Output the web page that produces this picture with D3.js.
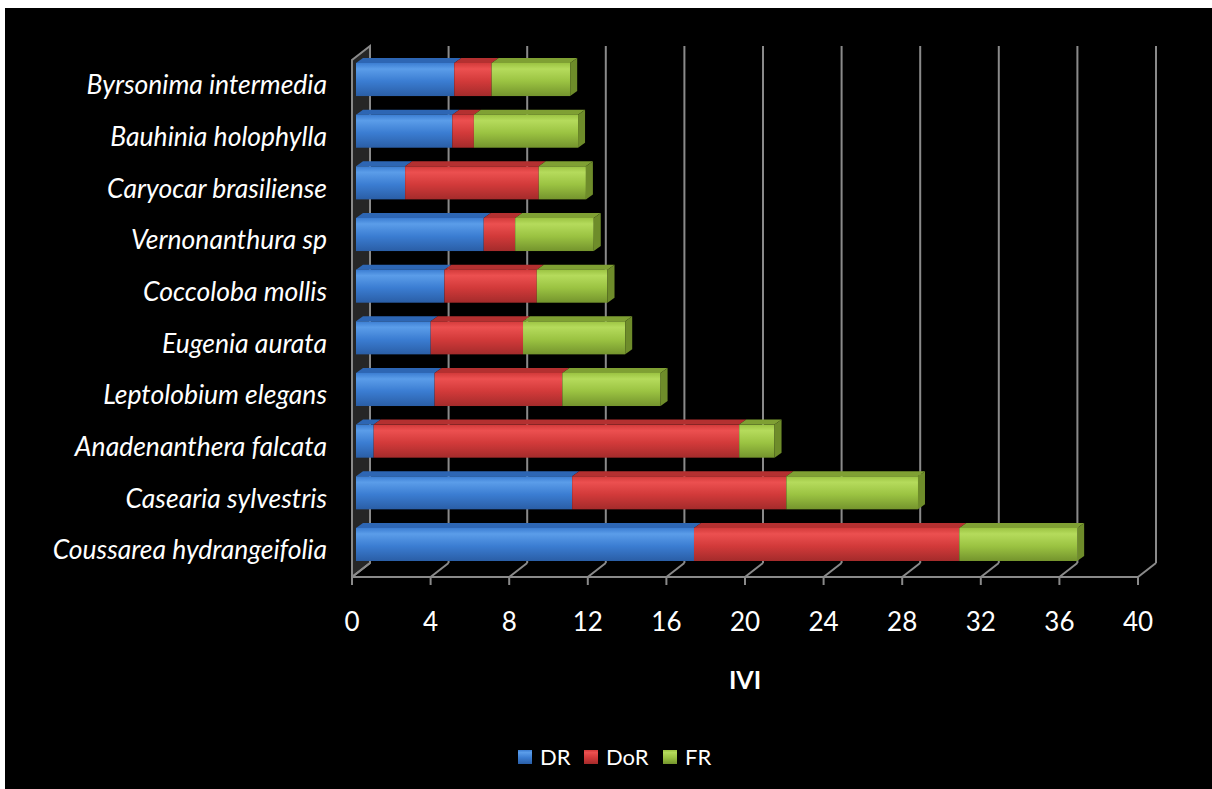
<!DOCTYPE html>
<html>
<head>
<meta charset="utf-8">
<script src="https://cdn.jsdelivr.net/npm/d3@7"></script>
<style>
  body { margin: 0; background: #fff; }
  svg { display: block; }
</style>
</head>
<body>
<script>
// species, bottom to top as in the chart
var species = ["Coussarea hydrangeifolia", "Casearia sylvestris", "Anadenanthera falcata",
  "Leptolobium elegans", "Eugenia aurata", "Coccoloba mollis", "Vernonanthura sp",
  "Caryocar brasiliense", "Bauhinia holophylla", "Byrsonima intermedia"];
var DR  = [17.2, 11.0, 0.9, 4.0, 3.8, 4.5, 6.5, 2.5, 4.9, 5.0];
var DoR = [13.5, 10.9, 18.6, 6.5, 4.7, 4.7, 1.6, 6.8, 1.1, 1.9];
var FR  = [6.0, 6.7, 1.8, 5.0, 5.2, 3.6, 4.0, 2.4, 5.3, 4.0];
var seriesNames = ["DR", "DoR", "FR"];
var xTicks = [0, 4, 8, 12, 16, 20, 24, 28, 32, 36, 40];

var width = 1212, height = 789;
var depth = {x: 18, y: -14};   // back wall offset
var barOff = {x: 4, y: 0};      // bars sit a bit behind the front plane
var cap = {x: 7, y: -5};        // visible top / end face of each bar
var font = "Lato, 'Open Sans', sans-serif";

var svg = d3.select("body").append("svg")
    .attr("width", width)
    .attr("height", height);

svg.append("rect")
    .attr("x", 5).attr("y", 8)
    .attr("width", width - 5).attr("height", height - 8)
    .attr("fill", "#000");

var x = d3.scaleLinear().domain([0, 40]).range([352, 1138]);
var y = d3.scaleBand()
    .domain(species.slice().reverse())
    .range([63, 561])
    .paddingInner(0.36)
    .paddingOuter(0);

var floorY = 577, wallTop = 60;

var colors = {
  DR:  {top: "#5b9de9", mid: "#3b7dd2", bot: "#2a5ea6", face: "#2d66b4", end: "#2a5ea6"},
  DoR: {top: "#ec5050", mid: "#d23a3a", bot: "#a42b2b", face: "#b43030", end: "#a42b2b"},
  FR:  {top: "#b5db5c", mid: "#9bc342", bot: "#74942d", face: "#7fa033", end: "#6e8c2a"}
};

var defs = svg.append("defs");
seriesNames.forEach(function(s) {
  var g = defs.append("linearGradient")
      .attr("id", "grad-" + s)
      .attr("x1", 0).attr("y1", 0).attr("x2", 0).attr("y2", 1);
  g.append("stop").attr("offset", "0%").attr("stop-color", colors[s].mid);
  g.append("stop").attr("offset", "18%").attr("stop-color", colors[s].top);
  g.append("stop").attr("offset", "55%").attr("stop-color", colors[s].mid);
  g.append("stop").attr("offset", "100%").attr("stop-color", colors[s].bot);
});

// left wall
svg.append("path")
    .attr("d", "M" + x(0) + "," + floorY + " L" + x(0) + "," + wallTop +
      " L" + (x(0) + depth.x) + "," + (wallTop + depth.y) +
      " L" + (x(0) + depth.x) + "," + (floorY + depth.y) + " Z")
    .attr("fill", "#262626")
    .attr("stroke", "#8a8a8a")
    .attr("stroke-width", 2);

// back wall gridlines
svg.append("g").selectAll("line")
    .data(xTicks.slice(1))
  .enter().append("line")
    .attr("x1", function(d) { return x(d) + depth.x; })
    .attr("x2", function(d) { return x(d) + depth.x; })
    .attr("y1", floorY + depth.y)
    .attr("y2", wallTop + depth.y)
    .attr("stroke", "#8a8a8a")
    .attr("stroke-width", 2);

// floor lines
var floor = svg.append("g").attr("stroke", "#8a8a8a").attr("stroke-width", 2);
floor.selectAll("line.depth")
    .data(xTicks)
  .enter().append("line")
    .attr("class", "depth")
    .attr("x1", function(d) { return x(d); })
    .attr("y1", floorY)
    .attr("x2", function(d) { return x(d) + depth.x; })
    .attr("y2", floorY + depth.y);
floor.append("line")
    .attr("x1", x(0)).attr("x2", x(40))
    .attr("y1", floorY).attr("y2", floorY);
floor.selectAll("line.tick")
    .data(xTicks)
  .enter().append("line")
    .attr("class", "tick")
    .attr("x1", function(d) { return x(d); })
    .attr("x2", function(d) { return x(d); })
    .attr("y1", floorY)
    .attr("y2", floorY + 8);

// stacked data
var rows = species.map(function(name, i) {
  return {name: name, DR: DR[i], DoR: DoR[i], FR: FR[i]};
});
var stack = d3.stack().keys(seriesNames)(rows);

var bx = function(v) { return x(v) + barOff.x; };

var bars = svg.append("g");
rows.forEach(function(row, i) {
  var y0 = y(row.name) + barOff.y, h = y.bandwidth();
  var g = bars.append("g");
  stack.forEach(function(layer) {
    var s = layer.key, d = layer[i];
    var xa = bx(d[0]), xb = bx(d[1]);
    // top face
    g.append("path")
        .attr("d", "M" + xa + "," + y0 + " L" + (xa + cap.x) + "," + (y0 + cap.y) +
          " L" + (xb + cap.x) + "," + (y0 + cap.y) + " L" + xb + "," + y0 + " Z")
        .attr("fill", colors[s].face);
    // front face
    g.append("rect")
        .attr("x", xa).attr("y", y0)
        .attr("width", xb - xa).attr("height", h)
        .attr("fill", "url(#grad-" + s + ")");
  });
  // end face of the last segment
  var xe = bx(stack[2][i][1]);
  g.append("path")
      .attr("d", "M" + xe + "," + y0 + " L" + (xe + cap.x) + "," + (y0 + cap.y) +
        " L" + (xe + cap.x) + "," + (y0 + h + cap.y) + " L" + xe + "," + (y0 + h) + " Z")
      .attr("fill", colors.FR.end);
});

// category labels
svg.append("g").selectAll("text")
    .data(species)
  .enter().append("text")
    .attr("x", 327)
    .attr("y", function(d) { return y(d) + y.bandwidth() / 2 + 8; })
    .attr("text-anchor", "end")
    .attr("dominant-baseline", "middle")
    .attr("font-family", font)
    .attr("font-style", "italic")
    .attr("font-size", 26.5)
    .attr("fill", "#fff")
    .text(function(d) { return d; });

// tick labels
svg.append("g").selectAll("text")
    .data(xTicks)
  .enter().append("text")
    .attr("x", function(d) { return x(d); })
    .attr("y", 631)
    .attr("text-anchor", "middle")
    .attr("font-family", font)
    .attr("font-size", 26)
    .attr("fill", "#fff")
    .text(function(d) { return d; });

svg.append("text")
    .attr("x", 745).attr("y", 689)
    .attr("text-anchor", "middle")
    .attr("font-family", font)
    .attr("font-weight", "bold")
    .attr("font-size", 25)
    .attr("fill", "#fff")
    .text("IVI");

// legend
var legendX = [518, 584, 663];
var legend = svg.append("g").selectAll("g")
    .data(seriesNames)
  .enter().append("g")
    .attr("transform", function(d, i) { return "translate(" + legendX[i] + ",750)"; });
legend.append("rect")
    .attr("width", 14).attr("height", 14)
    .attr("fill", function(d) { return "url(#grad-" + d + ")"; });
legend.append("text")
    .attr("x", 22).attr("y", 15)
    .attr("font-family", font)
    .attr("font-size", 22)
    .attr("fill", "#fff")
    .text(function(d) { return d; });
</script>
</body>
</html>
